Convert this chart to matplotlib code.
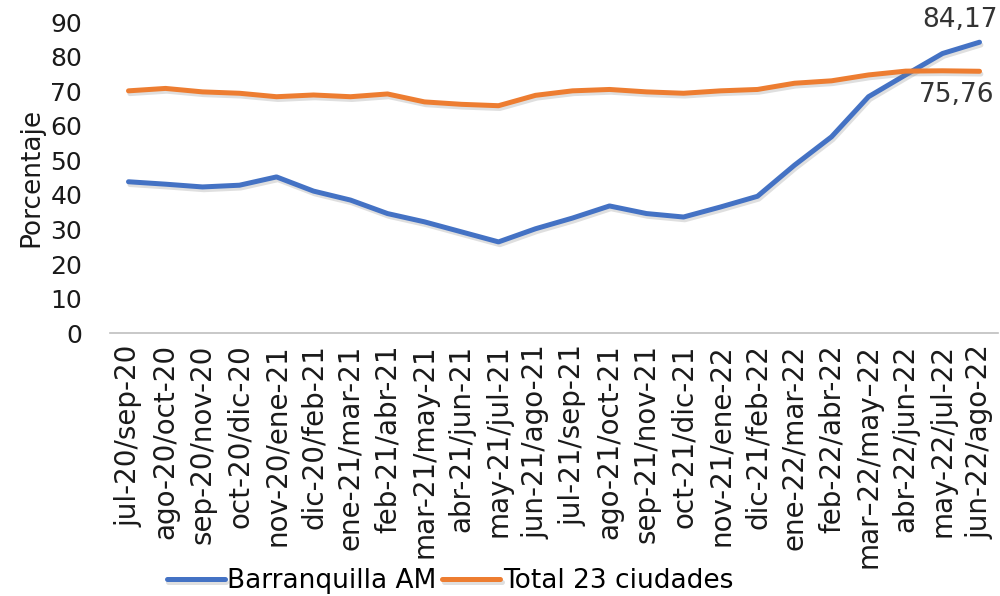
import matplotlib.pyplot as plt
import matplotlib.patheffects as pe

periodos = [
    "jul-20/sep-20", "ago-20/oct-20", "sep-20/nov-20", "oct-20/dic-20",
    "nov-20/ene-21", "dic-20/feb-21", "ene-21/mar-21", "feb-21/abr-21",
    "mar-21/may-21", "abr-21/jun-21", "may-21/jul-21", "jun-21/ago-21",
    "jul-21/sep-21", "ago-21/oct-21", "sep-21/nov-21", "oct-21/dic-21",
    "nov-21/ene-22", "dic-21/feb-22", "ene-22/mar-22", "feb-22/abr-22",
    "mar\u201322/may\u201322", "abr-22/jun-22", "may-22/jul-22", "jun-22/ago-22",
]
barranquilla = [43.8, 43.1, 42.3, 42.8, 45.2, 41.1, 38.5, 34.6, 32.2, 29.3,
                26.4, 30.2, 33.3, 36.8, 34.6, 33.6, 36.5, 39.6, 48.6, 56.8,
                68.4, 74.7, 80.9, 84.17]
total23 = [70.1, 70.8, 69.8, 69.4, 68.4, 68.9, 68.4, 69.2, 66.9, 66.2,
           65.8, 68.8, 70.1, 70.5, 69.8, 69.4, 70.1, 70.5, 72.3, 73.0,
           74.7, 75.8, 75.9, 75.76]

AZUL = "#4472C4"
NARANJA = "#ED7D31"
TEXTO = "#1a1a1a"

plt.rcParams["font.family"] = ["DejaVu Sans"]

fig = plt.figure(figsize=(10, 5.96), dpi=100)
ax = fig.add_axes([0.11, 0.441, 0.888, 0.522])

sombra = [pe.SimpleLineShadow(offset=(1, -2), shadow_color="gray", alpha=0.25),
          pe.Normal()]
x = list(range(len(periodos)))
ax.plot(x, barranquilla, color=AZUL, lw=3.6, solid_capstyle="round",
        label="Barranquilla AM", path_effects=sombra)
ax.plot(x, total23, color=NARANJA, lw=3.6, solid_capstyle="round",
        label="Total 23 ciudades", path_effects=sombra)

ax.set_xlim(-0.5, len(periodos) - 0.5)
ax.set_ylim(0, 90)
ax.set_yticks(range(0, 91, 10))
ax.set_xticks(x)
ax.set_xticklabels(periodos, rotation=90, fontsize=20, color=TEXTO)
ax.tick_params(axis="y", labelsize=18, length=0, pad=20, colors=TEXTO)
ax.tick_params(axis="x", length=0, pad=8)
for s in ["top", "right", "left"]:
    ax.spines[s].set_visible(False)
ax.spines["bottom"].set_color("#bfbfbf")
ax.spines["bottom"].set_linewidth(1.2)

ax.set_ylabel("Porcentaje", fontsize=19, color=TEXTO, labelpad=4)

ax.annotate(f"{barranquilla[-1]:.2f}".replace(".", ","), (x[-1], barranquilla[-1]),
            xytext=(13, 16), textcoords="offset points", ha="right", va="center",
            fontsize=19, color="#333333", annotation_clip=False)
ax.annotate(f"{total23[-1]:.2f}".replace(".", ","), (x[-1], total23[-1]),
            xytext=(11, -17), textcoords="offset points", ha="right", va="center",
            fontsize=19, color="#333333", annotation_clip=False)

fig.legend(loc="center", bbox_to_anchor=(0.45, 0.025), ncol=2,
           frameon=False, fontsize=19, handlelength=2.2, columnspacing=0.2,
           handletextpad=0.1)

fig.savefig("out.png", dpi=100)
plt.close()
